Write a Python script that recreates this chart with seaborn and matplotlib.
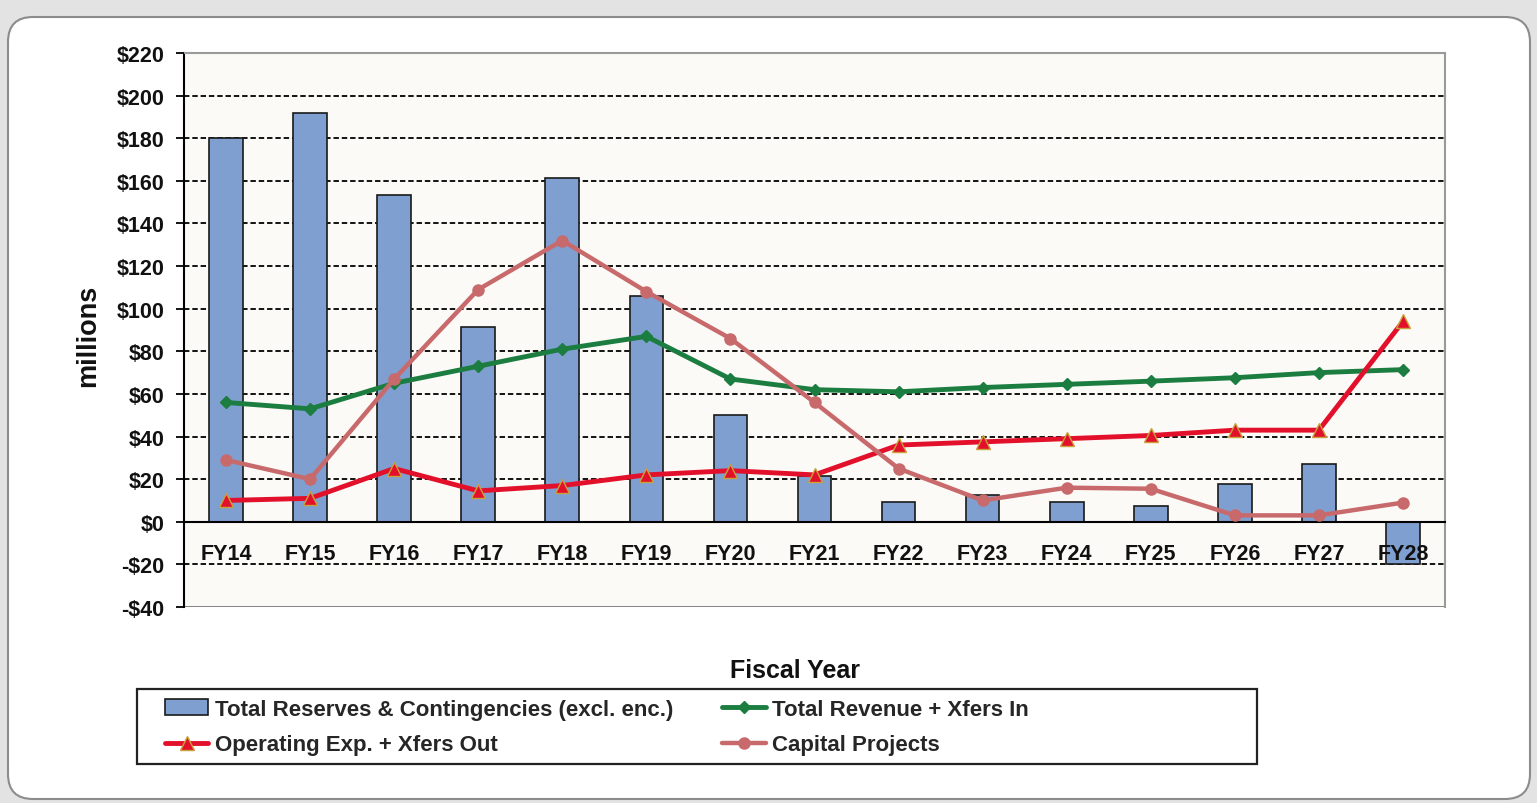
import numpy as np
import pandas as pd
import matplotlib
matplotlib.use("Agg")
import matplotlib.pyplot as plt
import seaborn as sns
from matplotlib.patches import FancyBboxPatch, Rectangle

# ---------------- data ----------------
years = ["FY14", "FY15", "FY16", "FY17", "FY18", "FY19", "FY20", "FY21",
         "FY22", "FY23", "FY24", "FY25", "FY26", "FY27", "FY28"]
reserves = [180, 192, 153.5, 91.5, 161.5, 106, 50, 21.6, 9.4, 12.5, 9.4, 7.5, 17.8, 27, -20]
revenue = [56, 53, 65, 73, 81, 87, 67, 62, 61, 63, 64.5, 66, 67.6, 70, 71.4]
operating = [10, 11, 25, 14.5, 17, 22, 24, 22, 36, 37.5, 39, 40.5, 43, 43, 94]
capital = [29, 20, 67, 109, 132, 108, 86, 56, 25, 10, 16, 15.5, 3, 3, 9]
y_ticks = list(range(-40, 221, 20))
y_tick_labels = [f"${v}" if v >= 0 else f"-${-v}" for v in y_ticks]
series_labels = ["Total Reserves & Contingencies (excl. enc.)",
                 "Total Revenue + Xfers In",
                 "Operating Exp. + Xfers Out",
                 "Capital Projects"]

df = pd.DataFrame({"year": years, "reserves": reserves, "revenue": revenue,
                   "operating": operating, "capital": capital})

# ---------------- style ----------------
sns.set_theme(style="white")
plt.rcParams["font.family"] = ["Liberation Sans", "DejaVu Sans"]
plt.rcParams["font.weight"] = "bold"
plt.rcParams["axes.axisbelow"] = False

W, H = 1537, 804
fig = plt.figure(figsize=(W / 100, H / 100), dpi=100, facecolor="#e3e3e3")

# rounded white panel
panel = FancyBboxPatch((0.08, 0.04), 15.22, 7.82,
                       boxstyle="round,pad=0,rounding_size=0.25",
                       transform=fig.dpi_scale_trans, facecolor="white",
                       edgecolor="#8c8c8c", linewidth=1.5, zorder=-2)
fig.add_artist(panel)

ax = fig.add_axes([184 / W, 1 - 608 / H, (1445 - 184) / W, (608 - 54) / H])
ax.set_facecolor("#fbfaf6")
ax.set_axisbelow(False)

bar_color = "#7f9fd1"
green = "#1c7d40"
red = "#e3102b"
rose = "#c86a6c"

sns.barplot(data=df, x="year", y="reserves", color=bar_color, saturation=1,
            edgecolor="#1a1a1a", linewidth=1.2, width=0.4, ax=ax, zorder=1,
            label=series_labels[0])

sns.pointplot(data=df, x="year", y="revenue", color=green, marker="D",
              markersize=6, linewidth=3.5, markeredgewidth=1, errorbar=None,
              ax=ax, zorder=4, label=series_labels[1])
sns.pointplot(data=df, x="year", y="operating", color=red, marker="^",
              markersize=10, linewidth=3.5, markeredgewidth=1,
              markeredgecolor="#c9a23a", errorbar=None,
              ax=ax, zorder=4, label=series_labels[2])
sns.pointplot(data=df, x="year", y="capital", color=rose, marker="o",
              markersize=8, linewidth=3.2, markeredgewidth=1, errorbar=None,
              ax=ax, zorder=4, label=series_labels[3])

if ax.get_legend() is not None:
    ax.get_legend().remove()

# axes limits and ticks
ax.set_xlim(-0.5, len(years) - 0.5)
ax.set_ylim(y_ticks[0], y_ticks[-1])
ax.set_yticks(y_ticks)
ax.set_yticklabels(y_tick_labels)
ax.set_xticks(range(len(years)))
ax.set_xticklabels(years)
ax.set_xticks(np.arange(-0.5, len(years), 1.0), minor=True)
ax.tick_params(axis="x", which="major", length=0, pad=15, labelsize=15.5,
               labelcolor="#111111")
ax.tick_params(axis="x", which="minor", direction="out", length=8, width=1.3,
               color="black")
ax.tick_params(axis="y", which="major", direction="out", length=6, width=1.3,
               color="black", pad=8, left=True, labelsize=15.5,
               labelcolor="#111111")
for t in ax.get_xticklabels() + ax.get_yticklabels():
    t.set_fontweight("bold")
ax.set_xlabel("")
ax.set_ylabel("")

# grid
for v in y_ticks[1:-1]:
    ax.axhline(v, color="black", linestyle=(0, (3, 1.6)), linewidth=1.3, zorder=0.5)
ax.axhline(y_ticks[0], color="#7a7a7a", linewidth=2, zorder=0.6)

# spines
ax.spines["bottom"].set_position(("data", 0))
ax.spines["bottom"].set_color("black")
ax.spines["bottom"].set_linewidth(1.5)
ax.spines["left"].set_color("black")
ax.spines["left"].set_linewidth(1.5)
ax.spines["top"].set_color("#9a9a9a")
ax.spines["top"].set_linewidth(1.5)
ax.spines["right"].set_color("#9a9a9a")
ax.spines["right"].set_linewidth(1.5)

# axis titles
fig.text(88 / W, 1 - 336 / H, "millions", rotation=90, ha="center", va="center",
         fontsize=19.5, fontweight="bold", color="#111111")
fig.text(795 / W, 1 - 671 / H, "Fiscal Year", ha="center", va="center",
         fontsize=18, fontweight="bold", color="#111111")

# legend box + legend
fig.add_artist(Rectangle((137 / W, 1 - 765 / H), (1257 - 137) / W, 75 / H,
                         transform=fig.transFigure, facecolor="white",
                         edgecolor="#222222", linewidth=1.6, zorder=0.5))
handles, labels = ax.get_legend_handles_labels()
order = [labels.index(l) for l in [series_labels[0], series_labels[2],
                                   series_labels[1], series_labels[3]]]
leg = fig.legend([handles[i] for i in order], [labels[i] for i in order],
                 ncol=2, loc="upper left", bbox_to_anchor=(165 / W, 1 - 700 / H),
                 frameon=False, borderpad=0, borderaxespad=0,
                 handlelength=1.95, handletextpad=0.3, columnspacing=2.2,
                 labelspacing=0.65, prop={"weight": "bold", "size": 16})
leg.set_zorder(6)

fig.savefig("out.png", dpi=100, facecolor=fig.get_facecolor())
